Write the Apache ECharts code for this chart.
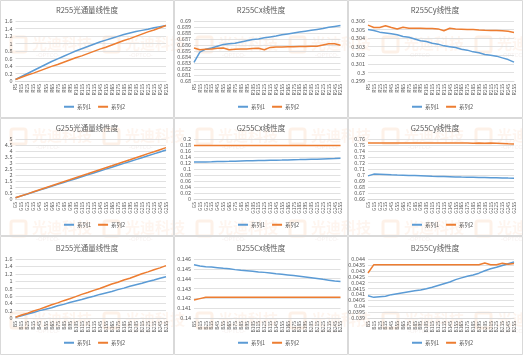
<!DOCTYPE html>
<html><head><meta charset="utf-8">
<script src="https://cdn.jsdelivr.net/npm/echarts@6/dist/echarts.min.js"></script>
<style>html,body{margin:0;padding:0;background:#fff}#c{width:523px;height:355px}</style>
</head><body><div id="c"></div>
<script>
// ---------- DATA ----------
const catsR = ["R5","R15","R25","R35","R45","R55","R65","R75","R85","R95","R105","R115","R125","R135","R145","R155","R165","R175","R185","R195","R205","R215","R225","R235","R245","R255"];
const catsG = ["G5","G15","G25","G35","G45","G55","G65","G75","G85","G95","G105","G115","G125","G135","G145","G155","G165","G175","G185","G195","G205","G215","G225","G235","G245","G255"];
const catsB = ["B5","B15","B25","B35","B45","B55","B65","B75","B85","B95","B105","B115","B125","B135","B145","B155","B165","B175","B185","B195","B205","B215","B225","B235","B245","B255"];
const titles = ["R255光通量线性度","R255Cx线性度","R255Cy线性度","G255光通量线性度","G255Cx线性度","G255Cy线性度","B255光通量线性度","B255Cx线性度","B255Cy线性度"];
const seriesNames = ["系列1","系列2"];

const rFluxS1 = [0.04,0.12,0.20,0.28,0.36,0.44,0.52,0.59,0.66,0.73,0.80,0.86,0.92,0.98,1.04,1.09,1.14,1.19,1.24,1.28,1.32,1.35,1.38,1.42,1.45,1.48];
const rFluxS2 = [0.04,0.10,0.16,0.21,0.27,0.33,0.39,0.44,0.50,0.56,0.62,0.67,0.73,0.79,0.85,0.90,0.96,1.02,1.08,1.13,1.19,1.25,1.31,1.36,1.42,1.48];
const rCxS1 = [0.6831,0.6848,0.6853,0.6855,0.6858,0.6861,0.6862,0.6863,0.6865,0.6867,0.6869,0.6870,0.6872,0.68735,0.6875,0.6877,0.68785,0.6880,0.68815,0.6883,0.68845,0.6886,0.68875,0.68895,0.6891,0.68925];
const rCxS2 = [0.6855,0.6852,0.6853,0.68535,0.68545,0.6855,0.6852,0.6853,0.68535,0.68535,0.6854,0.68545,0.6852,0.6856,0.68565,0.68565,0.6857,0.6857,0.68575,0.68575,0.6858,0.6858,0.6860,0.6862,0.6862,0.68595];
const rCyS1 = [0.3050,0.3049,0.3047,0.3046,0.3045,0.3044,0.3042,0.3041,0.3039,0.3037,0.3036,0.3034,0.3033,0.3031,0.3030,0.3029,0.3027,0.3026,0.3024,0.3023,0.3021,0.3020,0.3019,0.3017,0.3015,0.3012];
const rCyS2 = [0.30552,0.30525,0.30525,0.30545,0.30525,0.30506,0.30528,0.30515,0.30515,0.30515,0.30512,0.30512,0.30508,0.30487,0.30515,0.30508,0.30505,0.30502,0.30500,0.30495,0.30492,0.30490,0.30488,0.30485,0.30480,0.30467];
const gFluxS1 = [0.10,0.26,0.42,0.58,0.74,0.90,1.06,1.22,1.37,1.53,1.69,1.85,2.01,2.17,2.33,2.49,2.65,2.81,2.97,3.12,3.28,3.44,3.60,3.76,3.92,4.08];
const gFluxS2 = [0.10,0.27,0.43,0.60,0.77,0.94,1.10,1.27,1.44,1.60,1.77,1.94,2.10,2.27,2.44,2.61,2.77,2.94,3.11,3.27,3.44,3.61,3.78,3.94,4.11,4.28];
const gCxS1 = [0.1231,0.1233,0.1236,0.1240,0.1246,0.1251,0.1256,0.1262,0.1267,0.1272,0.1276,0.1281,0.1285,0.1290,0.1295,0.1299,0.1304,0.1309,0.1313,0.1318,0.1323,0.1328,0.1334,0.1340,0.1346,0.1360];
const gCxS2 = [0.1785,0.1782,0.1780,0.1782,0.1783,0.1781,0.1782,0.1782,0.1781,0.1782,0.1782,0.1781,0.1782,0.1782,0.1781,0.1782,0.1782,0.1781,0.1782,0.1782,0.1781,0.1782,0.1782,0.1781,0.1782,0.1782];
const gCyS1 = [0.6985,0.7015,0.7013,0.7008,0.7003,0.6999,0.6996,0.6993,0.6990,0.6987,0.6984,0.6980,0.6977,0.6974,0.6971,0.6968,0.6965,0.6963,0.6961,0.6959,0.6957,0.6955,0.6953,0.6951,0.6948,0.6946];
const gCyS2 = [0.7534,0.7535,0.7534,0.7533,0.7534,0.7534,0.7533,0.7534,0.7533,0.7533,0.7534,0.7533,0.7533,0.7532,0.7533,0.7532,0.7533,0.7532,0.7531,0.7532,0.7531,0.7532,0.7531,0.7527,0.7522,0.7518];
const bFluxS1 = [0.02,0.06,0.11,0.15,0.20,0.24,0.28,0.33,0.37,0.42,0.46,0.50,0.55,0.59,0.64,0.68,0.72,0.77,0.81,0.86,0.90,0.94,0.99,1.03,1.08,1.12];
const bFluxS2 = [0.02,0.08,0.13,0.19,0.24,0.30,0.36,0.41,0.47,0.52,0.58,0.64,0.69,0.75,0.80,0.86,0.92,0.97,1.03,1.08,1.14,1.20,1.25,1.31,1.36,1.42];
const bCxS1 = [0.14542,0.14528,0.14522,0.14518,0.14512,0.14505,0.14500,0.14492,0.14485,0.14480,0.14475,0.14468,0.14464,0.14458,0.14450,0.14444,0.14438,0.14432,0.14425,0.14418,0.14410,0.14402,0.14393,0.14385,0.14376,0.14370];
const bCxS2 = [0.14183,0.14197,0.1421,0.1421,0.1421,0.1421,0.1421,0.1421,0.1421,0.1421,0.1421,0.1421,0.1421,0.1421,0.1421,0.1421,0.1421,0.1421,0.1421,0.1421,0.1421,0.1421,0.1421,0.1421,0.1421,0.1421];
const bCyS1 = [0.04089,0.04075,0.04080,0.04084,0.04098,0.04106,0.04114,0.04122,0.04130,0.04138,0.04148,0.04160,0.04175,0.04190,0.04205,0.04225,0.04240,0.04253,0.04265,0.04280,0.04300,0.04318,0.04330,0.04345,0.04360,0.04375];
const bCyS2 = [0.04281,0.04352,0.04352,0.04352,0.04352,0.04352,0.04352,0.04352,0.04352,0.04352,0.04352,0.04352,0.04352,0.04352,0.04352,0.04352,0.04352,0.04352,0.04352,0.04352,0.04366,0.04352,0.04352,0.04364,0.04355,0.04362];

// y-axis tick ranges (min, max, step) per chart
const yMins  = [0, 0.680, 0.299, 0, 0, 0.66, 0, 0.140, 0.039];
const yMaxs  = [1.6, 0.690, 0.306, 5, 0.2, 0.76, 1.6, 0.146, 0.044];
const ySteps = [0.2, 0.001, 0.001, 0.5, 0.02, 0.01, 0.2, 0.001, 0.0005];

// ---------- LAYOUT ----------
const cats = [catsR, catsR, catsR, catsG, catsG, catsG, catsB, catsB, catsB];
const s1 = [rFluxS1, rCxS1, rCyS1, gFluxS1, gCxS1, gCyS1, bFluxS1, bCxS1, bCyS1];
const s2 = [rFluxS2, rCxS2, rCyS2, gFluxS2, gCxS2, gCyS2, bFluxS2, bCxS2, bCyS2];
const colLeft = [15.5, 194, 368], colRight = [166, 340.5, 514];
const rowTop = [21, 139, 259], rowH = [60, 60, 59];
const titleY = [6, 124, 244], legendY = [107, 225, 343];
const colCenter = [87, 261, 435];
const cellX = [0, 174, 348, 523], cellY = [0, 118, 236, 355];
const txt = '#595959', gridC = '#d9d9d9';
const blue = '#5B9BD5', orange = '#ED7D31';
const ff = '"Noto Sans CJK SC","Noto Sans",sans-serif';

function gen(v){ return String(parseFloat(v.toFixed(6))); }

const option = {animation:false, backgroundColor:'#fff', title:[], legend:[], grid:[], xAxis:[], yAxis:[], series:[], graphic:[]};

// watermark
const wmXs = [32,125,218,311,404,497], wmYs = [38,130,222,314];
wmYs.forEach(y=>wmXs.forEach(x=>{
  option.graphic.push({type:'rect', z:-10, silent:true, shape:{x:x-21, y:y-1, width:15, height:15, r:2}, style:{fill:'none', stroke:'rgba(237,125,49,0.11)', lineWidth:3}});
  option.graphic.push({type:'text', z:-10, silent:true, left:x, top:y-2, style:{text:'光迪科技', fill:'rgba(237,125,49,0.08)', font:'bold 15px "Noto Sans CJK SC"'}});
  option.graphic.push({type:'text', z:-10, silent:true, left:x+4, top:y+14, style:{text:'-OPTCO-', fill:'rgba(200,160,150,0.16)', font:'6px "Noto Sans"'}});
}));
// cell borders
for (let r=0;r<3;r++) for (let c=0;c<3;c++) {
  option.graphic.push({type:'rect', z:-5, silent:true, shape:{x:cellX[c]+0.5, y:cellY[r]+0.5, width:cellX[c+1]-cellX[c]-1, height:cellY[r+1]-cellY[r]-1}, style:{fill:'none', stroke:'#d9d9d9', lineWidth:1}});
}

for (let i=0;i<9;i++){
  const r = Math.floor(i/3), c = i%3;
  option.title.push({text:titles[i], left:colCenter[c], top:titleY[r], textAlign:'center', padding:0,
    textStyle:{fontSize:7.5, fontWeight:'normal', color:txt, fontFamily:ff}});
  option.legend.push({data:seriesNames, left:colCenter[c]-23, top:legendY[r]-3, padding:0, itemGap:7,
    itemWidth:10, itemHeight:2, icon:'rect', textStyle:{fontSize:5.5, color:txt, fontFamily:ff, padding:[0,0,0,-2]}});
  option.grid.push({left:colLeft[c], top:rowTop[r], width:colRight[c]-colLeft[c], height:rowH[r], containLabel:false});
  option.xAxis.push({type:'category', gridIndex:i, data:cats[i], boundaryGap:false,
    axisTick:{show:false}, axisLine:{lineStyle:{color:gridC, width:1}},
    axisLabel:{rotate:90, interval:0, fontSize:5, color:txt, margin:3, fontFamily:ff}});
  option.yAxis.push({type:'value', gridIndex:i, min:yMins[i], max:yMaxs[i], interval:ySteps[i],
    axisLine:{show:false}, axisTick:{show:false},
    splitLine:{lineStyle:{color:gridC, width:0.8}},
    axisLabel:{fontSize:5.5, color:txt, margin:3, fontFamily:ff, formatter:gen}});
  option.series.push({name:seriesNames[0], type:'line', xAxisIndex:i, yAxisIndex:i, data:s1[i], showSymbol:false, symbol:'none', lineStyle:{width:1.5, color:blue}, itemStyle:{color:blue}});
  option.series.push({name:seriesNames[1], type:'line', xAxisIndex:i, yAxisIndex:i, data:s2[i], showSymbol:false, symbol:'none', lineStyle:{width:1.5, color:orange}, itemStyle:{color:orange}});
}

const chart = echarts.init(document.getElementById('c'), null, {renderer:'canvas'});
chart.setOption(option);
</script></body></html>
